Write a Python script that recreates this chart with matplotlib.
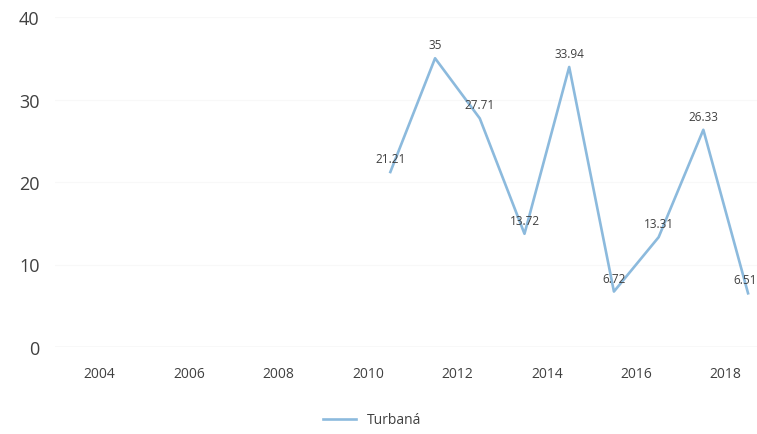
import matplotlib as mpl
mpl.use('Agg')
import matplotlib.pyplot as plt

# data (values sit mid-year)
years = [2010, 2011, 2012, 2013, 2014, 2015, 2016, 2017, 2018]
turbana = [21.21, 35, 27.71, 13.72, 33.94, 6.72, 13.31, 26.33, 6.51]
labels = ['21.21', '35', '27.71', '13.72', '33.94', '6.72', '13.31', '26.33', '6.51']
xticks = [2004, 2006, 2008, 2010, 2012, 2014, 2016, 2018]
yticks = [0, 10, 20, 30, 40]

plt.rcParams['font.family'] = ['Open Sans', 'DejaVu Sans']

fig = plt.figure(figsize=(7.57, 4.35), dpi=100)
ax = fig.add_axes([55 / 757, 87 / 435, 702 / 757, 330 / 435])

line_color = '#8cbadd'
xs = [y + 0.5 for y in years]
ax.plot(xs, turbana, color=line_color, linewidth=1.9, label='Turbaná',
        clip_on=False)

for i, (x, v, t) in enumerate(zip(xs, turbana, labels)):
  last = i == len(xs) - 1
  ax.annotate(t, (x, v), xytext=(6 if last else 0, 5),
              textcoords='offset points',
              ha='right' if last else 'center', va='bottom',
              fontsize=8.5, color='#404040')

ax.set_xlim(2003, 2018.7)
ax.set_ylim(0, 40)
ax.set_xticks(xticks)
ax.set_yticks(yticks)

for s in ax.spines.values():
  s.set_visible(False)
ax.axhline(0, color='#dcdcdc', linewidth=1)
for y in yticks[1:]:
  ax.axhline(y, color='#f8f8f8', linewidth=0.8, zorder=0)

ax.tick_params(axis='both', length=0)
ax.tick_params(axis='x', labelsize=10, labelcolor='#404040', pad=14)
ax.tick_params(axis='y', labelsize=13, labelcolor='#404040', pad=11)

fig.legend(loc='center', bbox_to_anchor=(372 / 757, 1 - 421 / 435),
           frameon=False, fontsize=10, handlelength=2.4,
           labelcolor='#404040')

fig.savefig('out.png', dpi=100)
